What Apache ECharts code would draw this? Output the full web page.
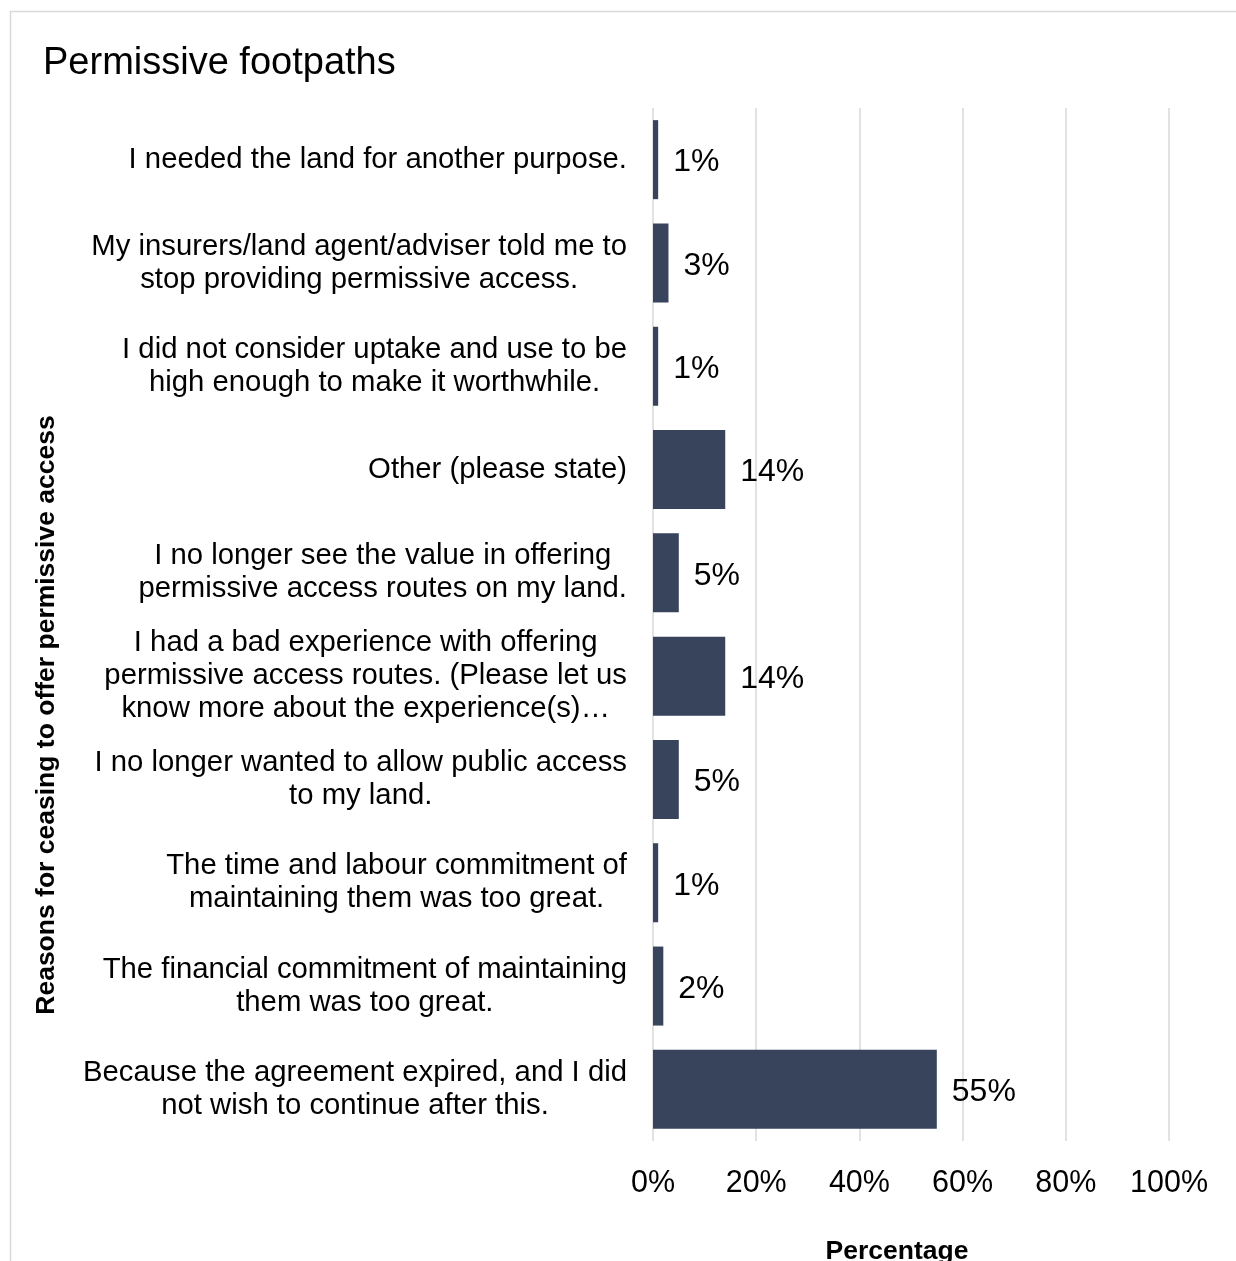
<!DOCTYPE html>
<html>
<head>
<meta charset="utf-8">
<script src="https://cdn.jsdelivr.net/npm/echarts@6/dist/echarts.min.js"></script>
<style>
  html, body { margin: 0; padding: 0; background: #fff; }
  #chart { width: 1236px; height: 1261px; }
</style>
</head>
<body>
<div id="chart"></div>
<script>
// Reasons given for ceasing to offer permissive footpaths (share of respondents, %)
const categories = [
  'I needed the land for another purpose.',
  'My insurers/land agent/adviser told me to\nstop providing permissive access.',
  'I did not consider uptake and use to be\nhigh enough to make it worthwhile.',
  'Other (please state)',
  'I no longer see the value in offering\npermissive access routes on my land.',
  'I had a bad experience with offering\npermissive access routes. (Please let us\nknow more about the experience(s)\u2026',
  'I no longer wanted to allow public access\nto my land.',
  'The time and labour commitment of\nmaintaining them was too great.',
  'The financial commitment of maintaining\nthem was too great.',
  'Because the agreement expired, and I did\nnot wish to continue after this.'
];
const percentages = [1, 3, 1, 14, 5, 14, 5, 1, 2, 55];
const xTicks = { min: 0, max: 100, interval: 20 };

const titleText = 'Permissive footpaths';
const yTitle = 'Reasons for ceasing to offer permissive access';
const xTitle = 'Percentage';

const FONT = "'Liberation Sans', Arial, Helvetica, sans-serif";
const chart = echarts.init(document.getElementById('chart'), null, { renderer: 'canvas' });

chart.setOption({
  backgroundColor: '#ffffff',
  animation: false,
  textStyle: { fontFamily: FONT },
  grid: {
    left: 653, right: 67, top: 108, bottom: 120,
    containLabel: false,
    outerBoundsMode: 'none'
  },
  xAxis: {
    type: 'value',
    min: xTicks.min, max: xTicks.max, interval: xTicks.interval,
    axisLine: { show: false },
    axisTick: { show: false },
    axisLabel: {
      formatter: '{value}%',
      fontSize: 30.5, color: '#000', fontFamily: FONT,
      margin: 27
    },
    splitLine: { show: true, lineStyle: { color: '#d9d9d9', width: 1.5 } }
  },
  yAxis: {
    type: 'category',
    data: categories,
    inverse: true,
    axisLine: { show: false },
    axisTick: { show: false },
    axisLabel: {
      interval: 0,
      margin: 26,
      align: 'right',
      color: '#000',
      fontSize: 29.3,
      fontFamily: FONT,
      formatter: v => v.split('\n').map(l => '{c|' + l + '}').join('\n'),
      rich: {
        c: { align: 'center', fontSize: 29.3, lineHeight: 33, color: '#000', fontFamily: FONT }
      }
    }
  },
  series: [{
    type: 'bar',
    data: percentages,
    barCategoryGap: '23.5%',
    itemStyle: { color: '#37445c' },
    label: {
      show: true,
      position: 'right',
      distance: 15,
      offset: [0, 3],
      formatter: '{c}%',
      fontSize: 32,
      color: '#000',
      fontFamily: FONT
    },
    silent: true
  }],
  graphic: [
    {
      type: 'rect',
      shape: { x: 10.5, y: 11.5, width: 1400, height: 1400 },
      style: { fill: 'none', stroke: '#d9d9d9', lineWidth: 1.5 },
      silent: true, z: -1
    },
    {
      type: 'text',
      x: 43, y: 64,
      style: {
        text: titleText, fontSize: 38, fontFamily: FONT, fill: '#000',
        textAlign: 'left', textVerticalAlign: 'middle'
      }
    },
    {
      type: 'text',
      x: 47, y: 715,
      rotation: Math.PI / 2,
      style: {
        text: yTitle, fontSize: 26.5, fontWeight: 'bold', fontFamily: FONT, fill: '#000',
        textAlign: 'center', textVerticalAlign: 'middle'
      }
    },
    {
      type: 'text',
      x: 897, y: 1252,
      style: {
        text: xTitle, fontSize: 26.5, fontWeight: 'bold', fontFamily: FONT, fill: '#000',
        textAlign: 'center', textVerticalAlign: 'middle'
      }
    }
  ]
});
</script>
</body>
</html>
